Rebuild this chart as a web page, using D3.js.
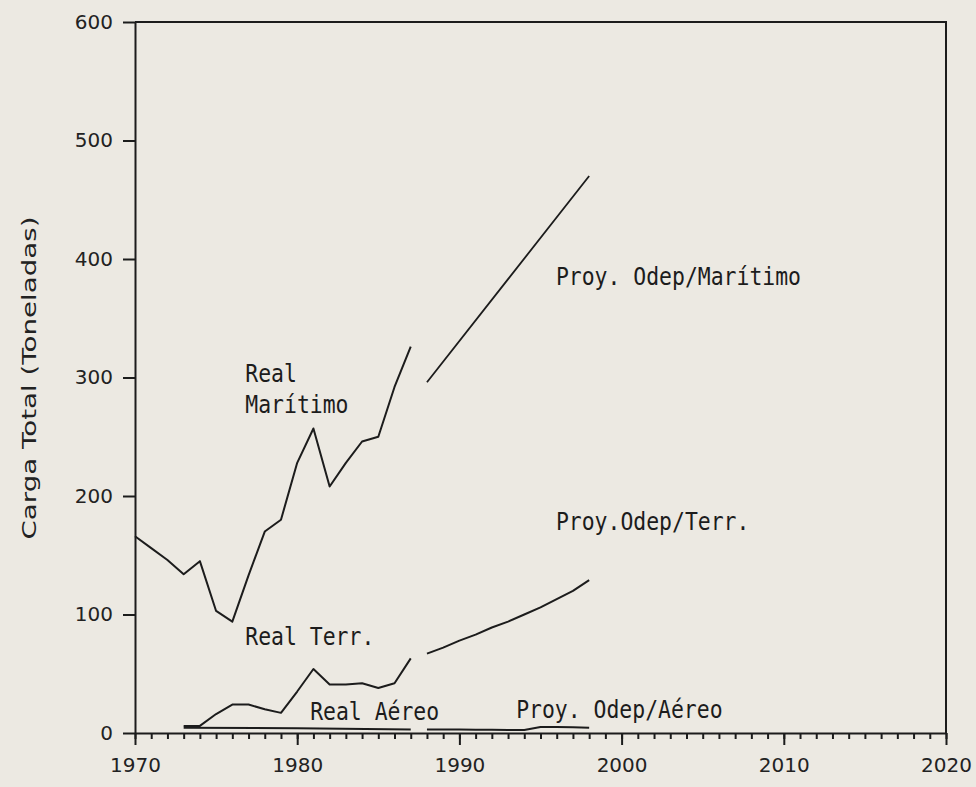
<!DOCTYPE html>
<meta charset="utf-8">
<style>
body { margin: 0; background: #ece9e2; }
svg { display: block; }
.line { fill: none; stroke: #1c1c1c; stroke-linejoin: round; }
.axis text { font-family: "DejaVu Sans", sans-serif; font-size: 20px; fill: #222; }
.axis line, .axis path { stroke: #1c1c1c; stroke-width: 2px; }
.note { font-family: "DejaVu Sans Mono", monospace; font-size: 25px; fill: #1c1c1c; }
.title { font-family: "DejaVu Sans", sans-serif; font-size: 19px; fill: #222; }
</style>
<body>
<script src="https://d3js.org/d3.v7.min.js"></script>
<script>

// real series
var realYears = [1970, 1971, 1972, 1973, 1974, 1975, 1976, 1977, 1978, 1979,
                 1980, 1981, 1982, 1983, 1984, 1985, 1986, 1987];
var realMaritimo = [166, 156, 146, 134, 145, 103, 94, 133, 170, 180,
                    228, 257, 208, 228, 246, 250, 292, 326];

var terrYears = [1973, 1974, 1975, 1976, 1977, 1978, 1979, 1980,
                 1981, 1982, 1983, 1984, 1985, 1986, 1987];
var realTerr = [6, 6, 16, 24, 24, 20, 17, 35, 54, 41, 41, 42, 38, 42, 63];

var aereoYears = [1973, 1980, 1987];
var realAereo = [4.5, 4, 3];

// projections (Odep)
var proyMarYears = [1988, 1993, 1998];
var proyMaritimo = [296, 383, 470];

var proyYears = [1988, 1989, 1990, 1991, 1992, 1993, 1994, 1995, 1996, 1997, 1998];
var proyTerr = [67, 72, 78, 83, 89, 94, 100, 106, 113, 120, 129];
var proyAereo = [3, 3, 3, 2.8, 2.7, 2.6, 2.5, 5, 5, 4.8, 4.5];

// ticks
var yearTicks = [1970, 1980, 1990, 2000, 2010, 2020];
var valueTicks = [0, 100, 200, 300, 400, 500, 600];

// labels placed in data units
var notes = [
  {text: "Real", year: 1976.8, value: 296},
  {text: "Marítimo", year: 1976.8, value: 270},
  {text: "Proy. Odep/Marítimo", year: 1995.95, value: 378},
  {text: "Proy.Odep/Terr.", year: 1995.95, value: 171},
  {text: "Real Terr.", year: 1976.8, value: 74},
  {text: "Real Aéreo", year: 1980.8, value: 11},
  {text: "Proy. Odep/Aéreo", year: 1993.5, value: 12.5}
];

var margin = {top: 22, right: 30, bottom: 54, left: 135},
    width = 976 - margin.left - margin.right,
    height = 787 - margin.top - margin.bottom;

var x = d3.scaleLinear().domain([1970, 2020]).range([0, width]);
var y = d3.scaleLinear().domain([0, 600]).range([height, 0]);

var svg = d3.select("body").append("svg")
    .attr("width", 976)
    .attr("height", 787)
  .append("g")
    .attr("transform", "translate(" + margin.left + "," + margin.top + ")");

// frame: top and right edges
svg.append("path")
    .attr("d", "M0,0H" + width + "V" + height)
    .attr("fill", "none")
    .attr("stroke", "#1c1c1c")
    .attr("stroke-width", 2);

// minor year ticks
svg.append("g")
    .attr("class", "axis")
    .attr("transform", "translate(0," + height + ")")
    .call(d3.axisBottom(x).ticks(50).tickSize(6).tickSizeOuter(0).tickFormat(""))
    .call(function(g) { g.select(".domain").remove(); });

// x axis
svg.append("g")
    .attr("class", "axis")
    .attr("transform", "translate(0," + height + ")")
    .call(d3.axisBottom(x).tickValues(yearTicks).tickSize(12).tickSizeOuter(0)
      .tickPadding(13).tickFormat(d3.format("d")));

// y axis
svg.append("g")
    .attr("class", "axis")
    .call(d3.axisLeft(y).tickValues(valueTicks).tickSize(12).tickSizeOuter(0).tickPadding(10));

// y axis title
svg.append("text")
    .attr("class", "title")
    .attr("transform", "translate(" + (36 - margin.left) + "," + (378 - margin.top) + ") rotate(-90)")
    .attr("text-anchor", "middle")
    .attr("textLength", 323)
    .attr("lengthAdjust", "spacingAndGlyphs")
    .text("Carga Total (Toneladas)");

function drawSeries(years, values, w) {
  var pts = years.map(function(yr, i) { return [yr, values[i]]; });
  svg.append("path")
      .datum(pts)
      .attr("class", "line")
      .attr("stroke-width", w)
      .attr("d", d3.line()
        .x(function(d) { return x(d[0]); })
        .y(function(d) { return y(d[1]); }));
}

drawSeries(realYears, realMaritimo, 2);
drawSeries(terrYears, realTerr, 2);
drawSeries(aereoYears, realAereo, 2);
drawSeries(proyMarYears, proyMaritimo, 1.8);
drawSeries(proyYears, proyTerr, 2);
drawSeries(proyYears, proyAereo, 2);

// annotations
svg.selectAll(".note")
    .data(notes)
  .enter().append("text")
    .attr("class", "note")
    .attr("x", function(d) { return x(d.year); })
    .attr("y", function(d) { return y(d.value); })
    .attr("textLength", function(d) { return d.text.length * 12.9; })
    .attr("lengthAdjust", "spacingAndGlyphs")
    .text(function(d) { return d.text; });

</script>
</body>
